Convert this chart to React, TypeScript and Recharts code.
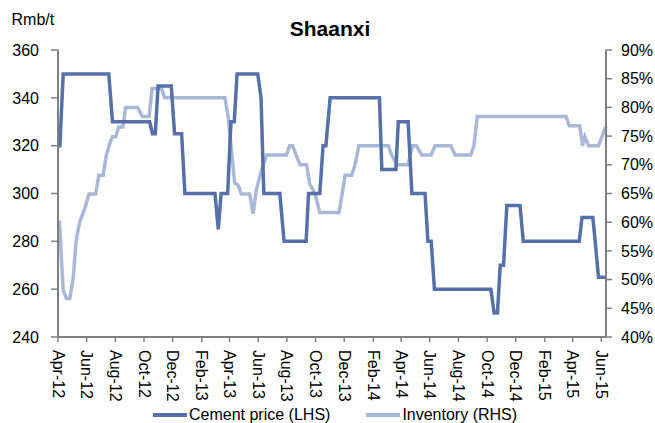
import React from "react"
import { LineChart, Line, XAxis, YAxis } from "recharts"

// Shaanxi cement price (Rmb/t, LHS) and clinker inventory ratio (%, RHS), weekly
const priceDates = [
  "2012-04-01", "2012-04-05", "2012-04-12", "2012-07-18", "2012-07-26", "2012-10-13", "2012-10-19",
  "2012-10-25", "2012-10-31", "2012-11-28", "2012-12-05", "2012-12-20", "2012-12-27", "2013-03-01",
  "2013-03-08", "2013-03-14", "2013-03-28", "2013-04-04", "2013-04-11", "2013-04-17", "2013-05-31",
  "2013-06-07", "2013-06-13", "2013-07-17", "2013-07-26", "2013-09-11", "2013-09-16", "2013-10-10",
  "2013-10-17", "2013-10-23", "2013-11-01", "2014-02-14", "2014-02-19", "2014-03-21", "2014-03-26",
  "2014-04-16", "2014-04-24", "2014-05-22", "2014-05-28", "2014-06-04", "2014-06-11", "2014-10-09",
  "2014-10-16", "2014-10-23", "2014-10-29", "2014-11-05", "2014-11-12", "2014-12-10", "2014-12-17",
  "2015-04-15", "2015-04-21", "2015-05-14", "2015-05-19", "2015-05-26", "2015-06-11",
]
const priceValues = [
  320, 320, 350, 350, 330, 330, 325,
  325, 345, 345, 325, 325, 300, 300,
  285, 300, 300, 330, 330, 350, 350,
  340, 300, 300, 280, 280, 300, 300,
  320, 320, 340, 340, 310, 310, 330,
  330, 300, 300, 280, 280, 260, 260,
  250, 250, 270, 270, 295, 295, 280,
  280, 290, 290, 280, 265, 265,
]

const inventoryDates = [
  "2012-04-01", "2012-04-04", "2012-04-12", "2012-04-19", "2012-04-26", "2012-05-03", "2012-05-10",
  "2012-05-17", "2012-05-28", "2012-06-06", "2012-06-20", "2012-06-27", "2012-07-06", "2012-07-13",
  "2012-07-20", "2012-07-26", "2012-08-02", "2012-08-08", "2012-08-17", "2012-08-23", "2012-09-18",
  "2012-09-27", "2012-10-12", "2012-10-18", "2012-11-07", "2012-11-14", "2013-03-22", "2013-03-29",
  "2013-04-05", "2013-04-12", "2013-04-19", "2013-04-26", "2013-05-14", "2013-05-21", "2013-05-28",
  "2013-06-08", "2013-06-19", "2013-07-31", "2013-08-07", "2013-08-13", "2013-08-29", "2013-09-12",
  "2013-09-18", "2013-09-30", "2013-10-10", "2013-11-20", "2013-12-03", "2013-12-17", "2013-12-24",
  "2014-01-01", "2014-03-05", "2014-03-12", "2014-03-23", "2014-04-16", "2014-04-25", "2014-05-04",
  "2014-05-15", "2014-06-04", "2014-06-12", "2014-07-16", "2014-07-25", "2014-08-27", "2014-09-03",
  "2014-09-10", "2015-03-18", "2015-03-25", "2015-04-16", "2015-04-22", "2015-04-27", "2015-05-05",
  "2015-05-26", "2015-06-11",
]
const inventoryValues = [
  60.1, 60, 48.2, 46.7, 46.7, 50, 57,
  60, 62.4, 64.9, 64.9, 68.2, 68.2, 71.7,
  73.7, 74.9, 74.9, 76.6, 76.6, 80, 80,
  78.4, 78.4, 83.3, 83.3, 81.7, 81.7, 78.4,
  72.6, 66.8, 66.5, 64.9, 64.9, 61.5, 65.6,
  69.1, 71.7, 71.7, 73.3, 73.3, 70, 70,
  66.8, 64.9, 61.7, 61.7, 68.2, 68.2, 70,
  73.3, 73.3, 71.7, 70, 70, 73.3, 73.3,
  71.7, 71.7, 73.3, 73.3, 71.7, 71.7, 73.3,
  78.4, 78.4, 76.8, 76.8, 73.3, 74.9, 73.3,
  73.3, 76.8,
]

const monthTicks = [
  "2012-04-01", "2012-06-01", "2012-08-01", "2012-10-01", "2012-12-01",
  "2013-02-01", "2013-04-01", "2013-06-01", "2013-08-01", "2013-10-01", "2013-12-01",
  "2014-02-01", "2014-04-01", "2014-06-01", "2014-08-01", "2014-10-01", "2014-12-01",
  "2015-02-01", "2015-04-01", "2015-06-01",
]
const priceTicks = [240, 260, 280, 300, 320, 340, 360]
const inventoryTicks = [40, 45, 50, 55, 60, 65, 70, 75, 80, 85, 90]

const MONTHS = ["Jan", "Feb", "Mar", "Apr", "May", "Jun", "Jul", "Aug", "Sep", "Oct", "Nov", "Dec"]

const DARK = "#5670a9"
const LIGHT = "#a9b8d6"
const AXIS = "#808080"
const FONT = '"Liberation Sans", Arial, sans-serif'

const priceData = priceDates.map((d, i) => ({ t: Date.parse(d), price: priceValues[i] }))
const inventoryData = inventoryDates.map((d, i) => ({ t: Date.parse(d), inventory: inventoryValues[i] }))

const formatMonth = (t: number) => {
  const d = new Date(t)
  return `${MONTHS[d.getUTCMonth()]}-${String(d.getUTCFullYear()).slice(2)}`
}

const DateTick = ({ x, y, payload }: any) => (
  <text
    transform={`translate(${x},${y}) rotate(90)`}
    textAnchor="start"
    dominantBaseline="central"
    fontSize={16}
    fill="#000"
  >
    {formatMonth(payload.value)}
  </text>
)

export default function App() {
  return (
    <div style={{ position: "absolute", left: 0, top: 0, width: 655, height: 423, fontFamily: FONT, background: "#fff" }}>
      <div style={{ position: "absolute", left: 11.5, top: 11.5, fontSize: 16, lineHeight: "16px" }}>Rmb/t</div>
      <div style={{ position: "absolute", left: 0, width: 660, top: 18, textAlign: "center", fontSize: 21, lineHeight: "21px", fontWeight: "bold" }}>
        Shaanxi
      </div>
      <LineChart width={655} height={423} margin={{ top: 50, right: 0, bottom: 16, left: 0 }}>
        <XAxis
          dataKey="t"
          type="number"
          domain={[Date.parse("2012-04-01"), Date.parse("2015-06-11")]}
          ticks={monthTicks.map((d) => Date.parse(d))}
          tick={<DateTick />}
          height={70}
          tickSize={5}
          tickMargin={8}
          interval={0}
          axisLine={{ stroke: AXIS, strokeWidth: 2 }}
          tickLine={{ stroke: AXIS, strokeWidth: 1.5 }}
        />
        <YAxis
          yAxisId="left"
          domain={[240, 360]}
          ticks={priceTicks}
          width={58}
          tickSize={7}
          tickMargin={12}
          tick={{ fontSize: 16, fill: "#000" }}
          axisLine={{ stroke: AXIS, strokeWidth: 2 }}
          tickLine={{ stroke: AXIS, strokeWidth: 1.5 }}
        />
        <YAxis
          yAxisId="right"
          orientation="right"
          domain={[40, 90]}
          ticks={inventoryTicks}
          tickFormatter={(v) => `${v}%`}
          width={49}
          tickSize={6}
          tickMargin={9}
          tick={{ fontSize: 16, fill: "#000" }}
          axisLine={{ stroke: AXIS, strokeWidth: 2 }}
          tickLine={{ stroke: AXIS, strokeWidth: 1.5 }}
        />
        <Line
          yAxisId="right"
          data={inventoryData}
          dataKey="inventory"
          type="linear"
          stroke={LIGHT}
          strokeWidth={3.5}
          dot={false}
          isAnimationActive={false}
        />
        <Line
          yAxisId="left"
          data={priceData}
          dataKey="price"
          type="linear"
          stroke={DARK}
          strokeWidth={3.5}
          dot={false}
          isAnimationActive={false}
        />
      </LineChart>
      <div style={{ position: "absolute", left: 153, top: 407, height: 16, display: "flex", alignItems: "center", fontSize: 16, lineHeight: "16px", whiteSpace: "nowrap" }}>
        <span style={{ display: "inline-block", width: 34, height: 3.5, background: DARK, marginRight: 2 }} />
        <span style={{ marginRight: 36 }}>Cement price (LHS)</span>
        <span style={{ display: "inline-block", width: 34, height: 3.5, background: LIGHT, marginRight: 2 }} />
        <span>Inventory (RHS)</span>
      </div>
    </div>
  )
}
